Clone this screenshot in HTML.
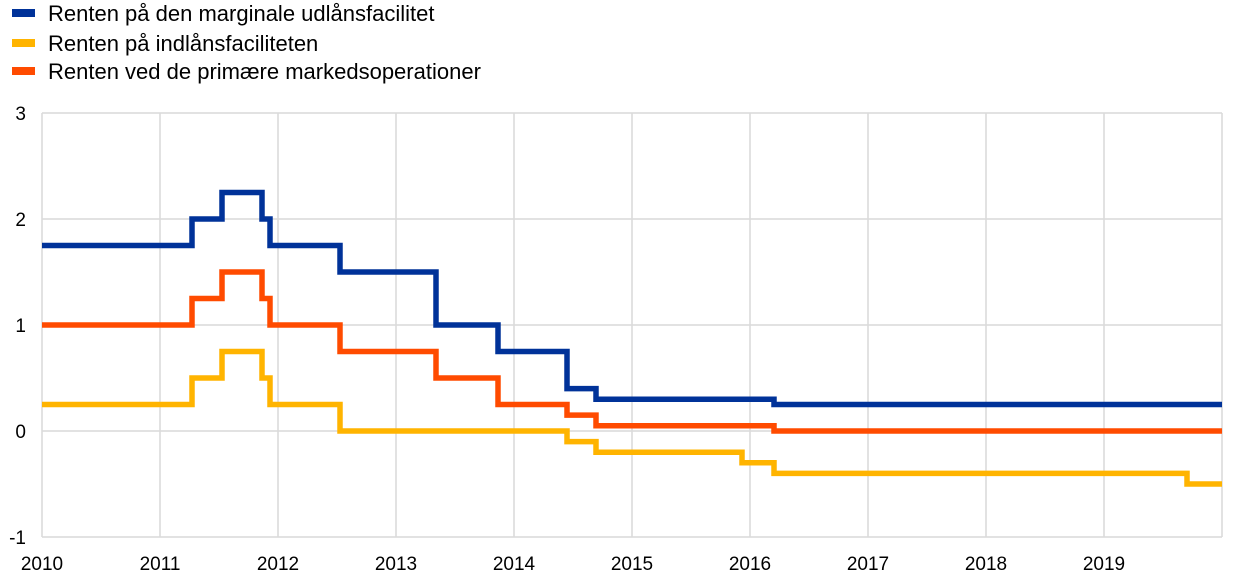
<!DOCTYPE html>
<html><head><meta charset="utf-8"><style>
body{margin:0;background:#fff;}
svg{display:block;font-family:"Liberation Sans",sans-serif;}
</style></head><body>
<svg width="1240" height="583" viewBox="0 0 1240 583" xmlns="http://www.w3.org/2000/svg">
<g stroke="#d9d9d9" stroke-width="1.5">
<line x1="42" y1="113" x2="1222" y2="113"/>
<line x1="42" y1="219" x2="1222" y2="219"/>
<line x1="42" y1="325" x2="1222" y2="325"/>
<line x1="42" y1="431" x2="1222" y2="431"/>
<line x1="42" y1="537" x2="1222" y2="537"/>
<line x1="42" y1="113" x2="42" y2="537"/>
<line x1="160" y1="113" x2="160" y2="537"/>
<line x1="278" y1="113" x2="278" y2="537"/>
<line x1="396" y1="113" x2="396" y2="537"/>
<line x1="514" y1="113" x2="514" y2="537"/>
<line x1="632" y1="113" x2="632" y2="537"/>
<line x1="750" y1="113" x2="750" y2="537"/>
<line x1="868" y1="113" x2="868" y2="537"/>
<line x1="986" y1="113" x2="986" y2="537"/>
<line x1="1104" y1="113" x2="1104" y2="537"/>
<line x1="1222" y1="113" x2="1222" y2="537"/>
</g>
<g font-size="19" fill="#000" text-anchor="end">
<text x="26" y="120">3</text>
<text x="26" y="226">2</text>
<text x="26" y="332">1</text>
<text x="26" y="438">0</text>
<text x="26" y="544">-1</text>
</g>
<g font-size="19" fill="#000" text-anchor="middle">
<text x="42" y="570">2010</text><text x="160" y="570">2011</text><text x="278" y="570">2012</text>
<text x="396" y="570">2013</text><text x="514" y="570">2014</text><text x="632" y="570">2015</text>
<text x="750" y="570">2016</text><text x="868" y="570">2017</text><text x="986" y="570">2018</text>
<text x="1104" y="570">2019</text>
</g>
<g fill="none" stroke-width="5.5" stroke-linejoin="miter">
<polyline stroke="#ffb400" points="42,404.5 192,404.5 192,378 222,378 222,351.5 262,351.5 262,378 270,378 270,404.5 340,404.5 340,431 567,431 567,441.6 596,441.6 596,452.2 742,452.2 742,462.8 774,462.8 774,473.4 1187,473.4 1187,484 1222,484"/>
<polyline stroke="#ff4b00" points="42,325 192,325 192,298.5 222,298.5 222,272 262,272 262,298.5 270,298.5 270,325 340,325 340,351.5 436,351.5 436,378 498,378 498,404.5 567,404.5 567,415.1 596,415.1 596,425.7 774,425.7 774,431 1222,431"/>
<polyline stroke="#003299" points="42,245.5 192,245.5 192,219 222,219 222,192.5 262,192.5 262,219 270,219 270,245.5 340,245.5 340,272 436,272 436,325 498,325 498,351.5 567,351.5 567,388.6 596,388.6 596,399.2 774,399.2 774,404.5 1222,404.5"/>
</g>
<rect x="12" y="9" width="23" height="8" fill="#003299"/>
<rect x="12" y="39" width="23" height="8" fill="#ffb400"/>
<rect x="12" y="67" width="23" height="8" fill="#ff4b00"/>
<g font-size="22" fill="#000" textLength="0">
<text x="48" y="21">Renten på den marginale udlånsfacilitet</text>
<text x="48" y="51">Renten på indlånsfaciliteten</text>
<text x="48" y="79">Renten ved de primære markedsoperationer</text>
</g>
</svg>
</body></html>
